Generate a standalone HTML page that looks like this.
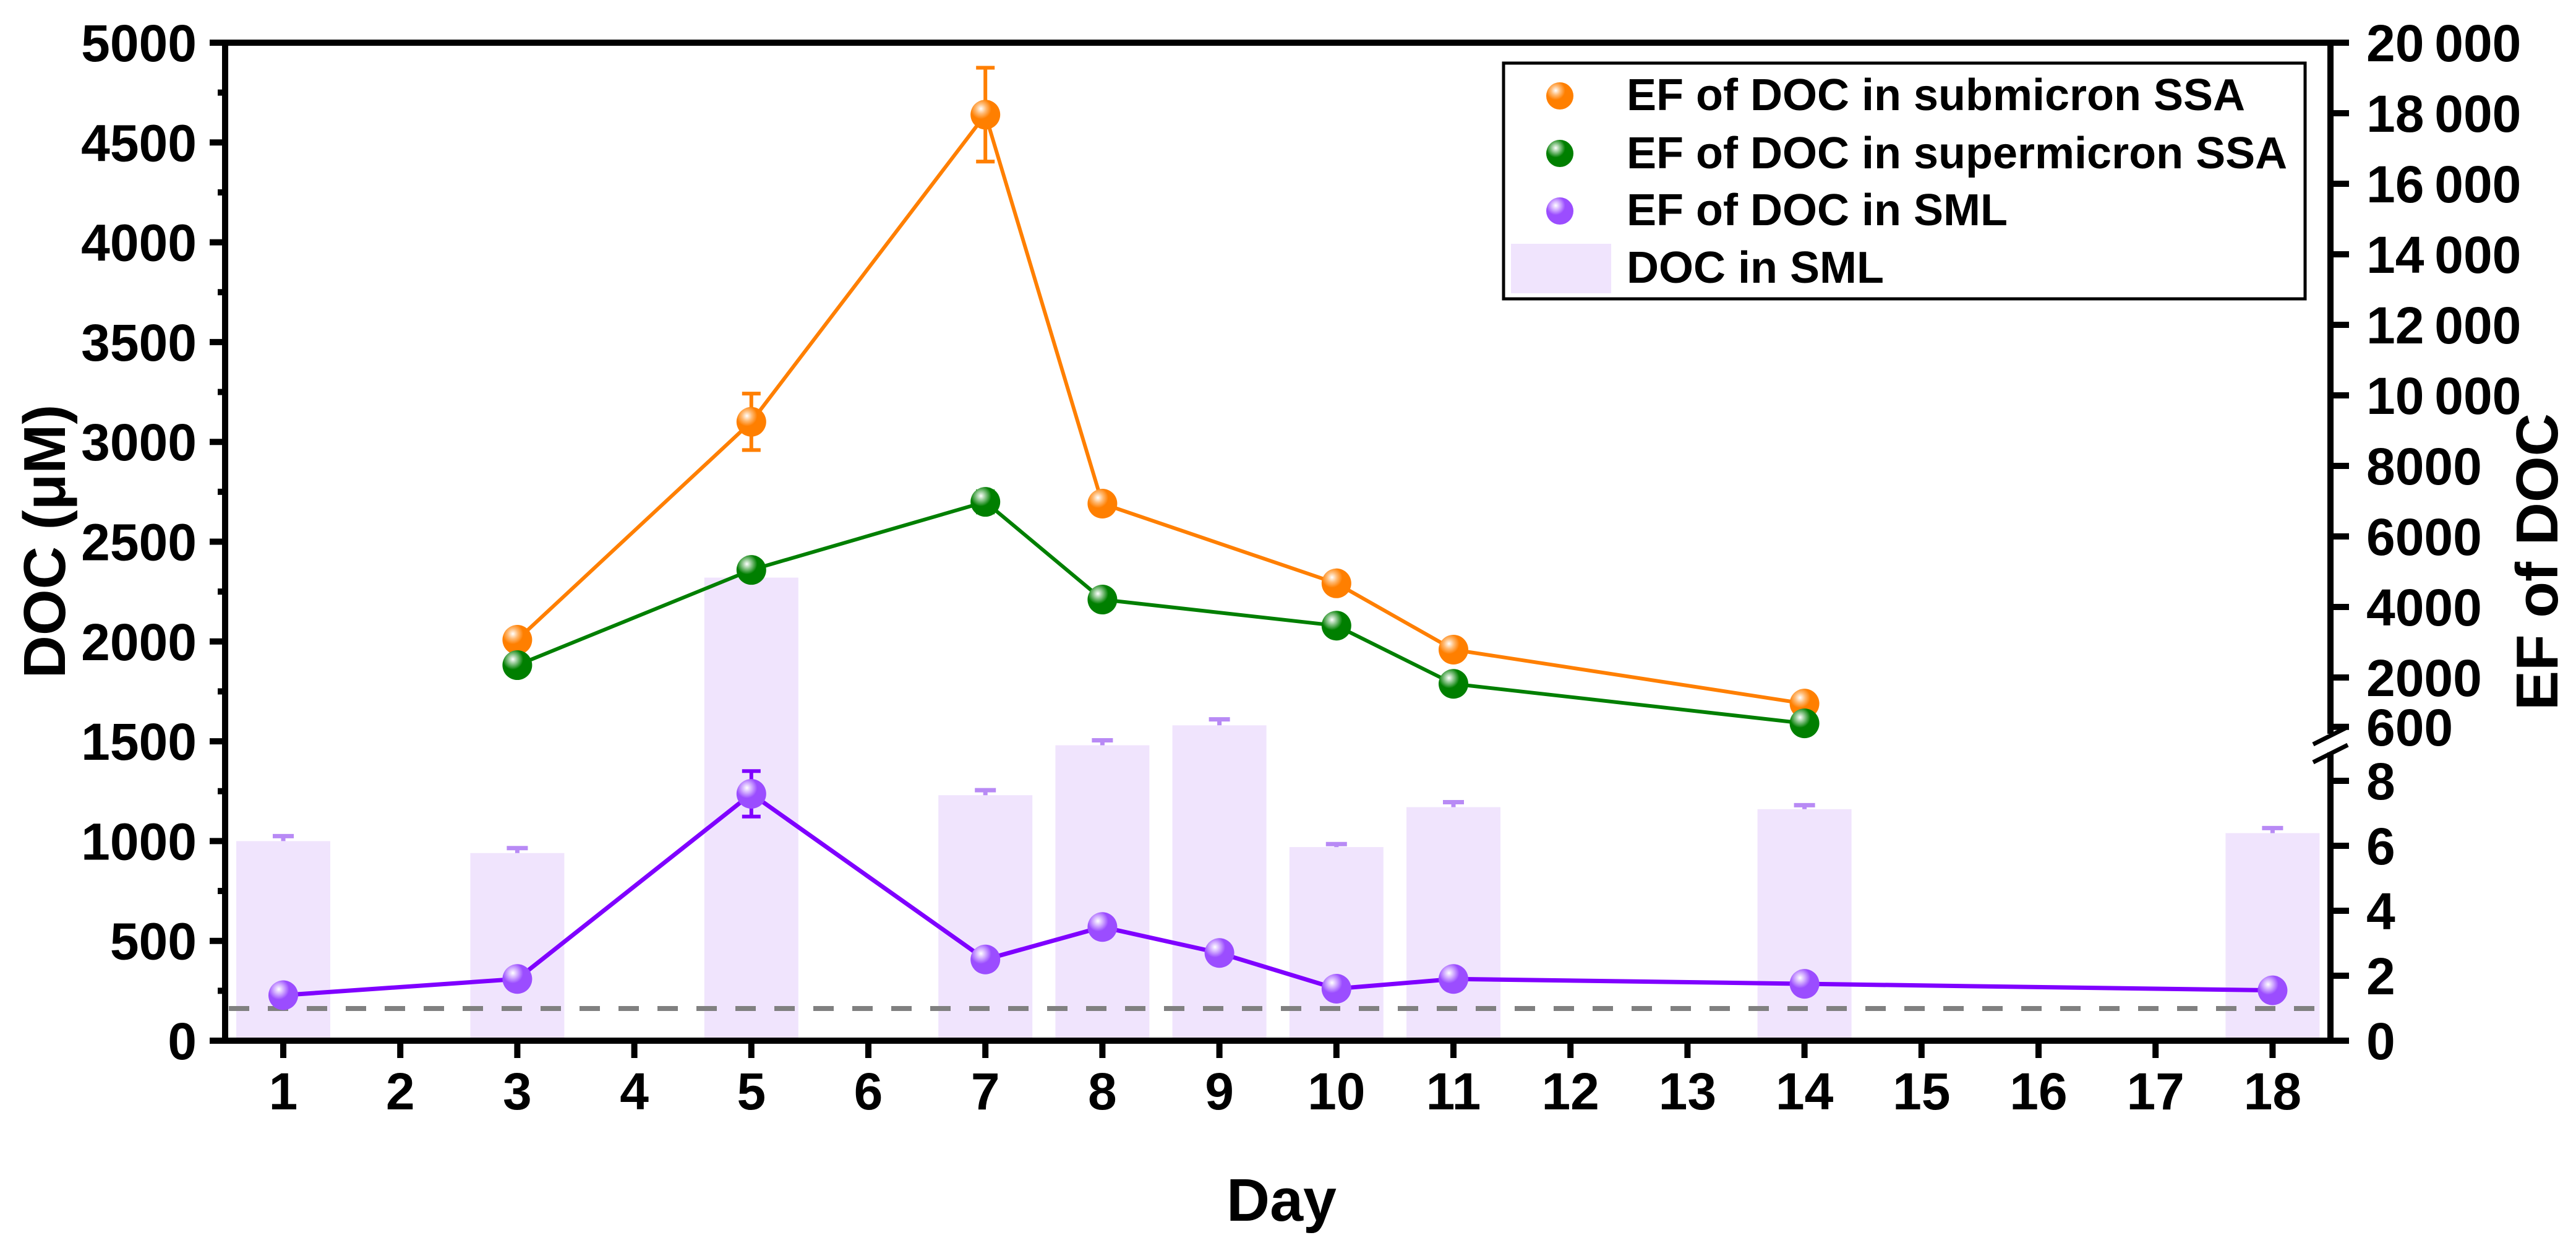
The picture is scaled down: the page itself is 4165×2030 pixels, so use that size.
<!DOCTYPE html>
<html><head><meta charset="utf-8"><style>
html,body{margin:0;padding:0;background:#fff}
svg{display:block;font-family:"Liberation Sans",Arial,sans-serif;font-weight:bold}
</style></head><body>
<svg id="chart" width="4165" height="2030" viewBox="0 0 4165 2030" xmlns="http://www.w3.org/2000/svg">
<defs>
<radialGradient id="gO" cx="0.35" cy="0.3" r="0.7"><stop offset="0" stop-color="#fff"/><stop offset="0.25" stop-color="#ffb870"/><stop offset="0.5" stop-color="#ff7f00"/><stop offset="1" stop-color="#ff7f00"/></radialGradient>
<radialGradient id="gG" cx="0.35" cy="0.3" r="0.7"><stop offset="0" stop-color="#fff"/><stop offset="0.25" stop-color="#80bf80"/><stop offset="0.5" stop-color="#007f00"/><stop offset="1" stop-color="#007f00"/></radialGradient>
<radialGradient id="gP" cx="0.35" cy="0.3" r="0.7"><stop offset="0" stop-color="#fff"/><stop offset="0.25" stop-color="#cfa8ff"/><stop offset="0.5" stop-color="#9b4dff"/><stop offset="1" stop-color="#9b4dff"/></radialGradient>
</defs>
<g id="bars"></g>
<line x1="370" y1="1630" x2="3764" y2="1630" stroke="#808080" stroke-width="8" stroke-dasharray="33,30"/>
<g id="series"></g>
<g id="axes"></g>
<text transform="translate(105,875) rotate(-90)" text-anchor="middle" font-size="96">DOC (μM)</text>
<text transform="translate(4135,908) rotate(-90)" text-anchor="middle" font-size="96">EF of DOC</text>
<text x="2072" y="1973" text-anchor="middle" font-size="97">Day</text>
<g>
<rect x="2431" y="102" width="1296" height="381" fill="#fff" stroke="#000" stroke-width="5"/>
<circle cx="2522" cy="155" r="22" fill="url(#gO)"/>
<text x="2630" y="178" font-size="72">EF of DOC in submicron SSA</text>
<circle cx="2522" cy="248" r="22" fill="url(#gG)"/>
<text x="2630" y="272" font-size="72">EF of DOC in supermicron SSA</text>
<circle cx="2522" cy="341" r="22" fill="url(#gP)"/>
<text x="2630" y="364" font-size="72">EF of DOC in SML</text>
<rect x="2443" y="394" width="162" height="80" fill="#f0e4fd"/>
<text x="2630" y="457" font-size="72">DOC in SML</text>
</g>
</svg>
<script>
const days = [1,2,3,4,5,6,7,8,9,10,11,12,13,14,15,16,17,18];
const barDays = [1,3,5,7,8,9,10,11,14,18];
const docSML = [1000,940,2320,1230,1480,1580,970,1170,1160,1040];
const docErr = [25,25,0,25,25,30,15,25,20,25];
const efSMLdays = [1,3,5,7,8,9,10,11,14,18];
const efSML = [1.4,1.9,7.6,2.5,3.5,2.7,1.6,1.9,1.75,1.55];
const efSMLerr = [0.1,0.15,0.7,0.2,0.15,0.15,0.1,0.1,0.1,0.1];
const ssaDays = [3,5,7,8,10,11,14];
const efSub = [3070,9250,17960,6930,4670,2790,1260];
const efSubErr = [150,800,1330,150,150,150,100];
const efSup = [2350,5050,6980,4210,3470,1820,700];
const efSupErr = [150,200,300,200,150,100,100];
const leftTicks = [0,500,1000,1500,2000,2500,3000,3500,4000,4500,5000];
const rightLowTicks = [0,2,4,6,8];
const rightHighTicks = [600,2000,4000,6000,8000,10000,12000,14000,16000,18000,20000];
const rightHighLabels = ["600","2000","4000","6000","8000","10\u2009000","12\u2009000","14\u2009000","16\u2009000","18\u2009000","20\u2009000"];

const NS="http://www.w3.org/2000/svg";
const X0=364, X1=3768, YB=1682, YT=69;
const xS = d => 458 + (d-1)*189.2;
const yL = v => YB - v*(YB-YT)/5000;
const yRL = v => YB - v*52.5;
const yRH = v => 1095 - (v-2000)*114/2000;
function mk(tag, attrs, parent){const e=document.createElementNS(NS,tag);for(const k in attrs)e.setAttribute(k,attrs[k]);parent.appendChild(e);return e;}
const gBars=document.getElementById('bars'), gS=document.getElementById('series'), gA=document.getElementById('axes');

barDays.forEach((d,i)=>{
  const r=mk('rect',{x:xS(d)-76,y:yL(docSML[i]),width:152,height:YB-yL(docSML[i]),fill:'#f0e4fd'},gBars);
  
  
  const t=yL(docSML[i]+docErr[i]);
  const e=mk('path',{d:`M${xS(d)} ${yL(docSML[i])}V${t}M${xS(d)-17} ${t}H${xS(d)+17}`,stroke:'#b88af5',"stroke-width":7,fill:'none'},gBars);
  
  
});

function series(ds, vals, errs, yf, col, grad, lw, name){
  const pts=ds.map((d,i)=>xS(d)+','+yf(vals[i])).join(' ');
  const l=mk('polyline',{points:pts,fill:'none',stroke:col,"stroke-width":lw},gS);
  
  
  ds.forEach((d,i)=>{
    const x=xS(d), y1=yf(vals[i]+errs[i]), y2=yf(vals[i]-errs[i]);
    const e=mk('path',{d:`M${x} ${y1}V${y2}M${x-15} ${y1}H${x+15}M${x-15} ${y2}H${x+15}`,stroke:col,"stroke-width":6,fill:'none'},gS);
    
    
    const c=mk('circle',{cx:x,cy:yf(vals[i]),r:24,fill:'url(#'+grad+')'},gS);
    
    
  });
}
series(ssaDays,efSub,efSubErr,yRH,'#ff7f00','gO',6,'ef-submicron');
series(ssaDays,efSup,efSupErr,yRH,'#007f00','gG',6,'ef-supermicron');
series(efSMLdays,efSML,efSMLerr,yRL,'#7f00ff','gP',7,'ef-sml');

let a=mk('path',{d:`M${X0} ${YT}V${YB+5}M${X0-25} ${YT}H${X1+5}M${X0-25} ${YB}H${X1+25}`,stroke:'#000',"stroke-width":10,fill:'none'},gA);


a=mk('path',{d:`M${X1} ${YT-5}V1186M${X1} 1216V${YB}`,stroke:'#000',"stroke-width":10,fill:'none'},gA);


a=mk('path',{d:`M${X1-28} 1203L${X1+28} 1175M${X1-28} 1232L${X1+28} 1204`,stroke:'#000',"stroke-width":7,fill:'none'},gA);



leftTicks.forEach(v=>{
  mk('line',{x1:X0-25,x2:X0,y1:yL(v),y2:yL(v),stroke:'#000',"stroke-width":10},gA);
  if(v<5000) mk('line',{x1:X0-12,x2:X0,y1:yL(v+250),y2:yL(v+250),stroke:'#000',"stroke-width":10},gA);
  const t=mk('text',{x:318,y:yL(v)+30,"text-anchor":"end","font-size":84},gA);
  t.textContent=v;
  
  
});
rightLowTicks.forEach(v=>{
  mk('line',{x1:X1,x2:X1+30,y1:yRL(v),y2:yRL(v),stroke:'#000',"stroke-width":10},gA);
  const t=mk('text',{x:3826,y:yRL(v)+30,"font-size":84},gA);
  t.textContent=v;
  
  
});
rightHighTicks.forEach((v,i)=>{
  mk('line',{x1:X1,x2:X1+30,y1:yRH(v),y2:yRH(v),stroke:'#000',"stroke-width":10},gA);
  const t=mk('text',{x:3826,y:yRH(v)+30,"font-size":84},gA);
  t.textContent=rightHighLabels[i];
  
  
});
days.forEach(d=>{
  mk('line',{x1:xS(d),x2:xS(d),y1:YB,y2:YB+28,stroke:'#000',"stroke-width":10},gA);
  const t=mk('text',{x:xS(d),y:1793,"text-anchor":"middle","font-size":84},gA);
  t.textContent=d;
  
  
});
</script>
</body></html>
